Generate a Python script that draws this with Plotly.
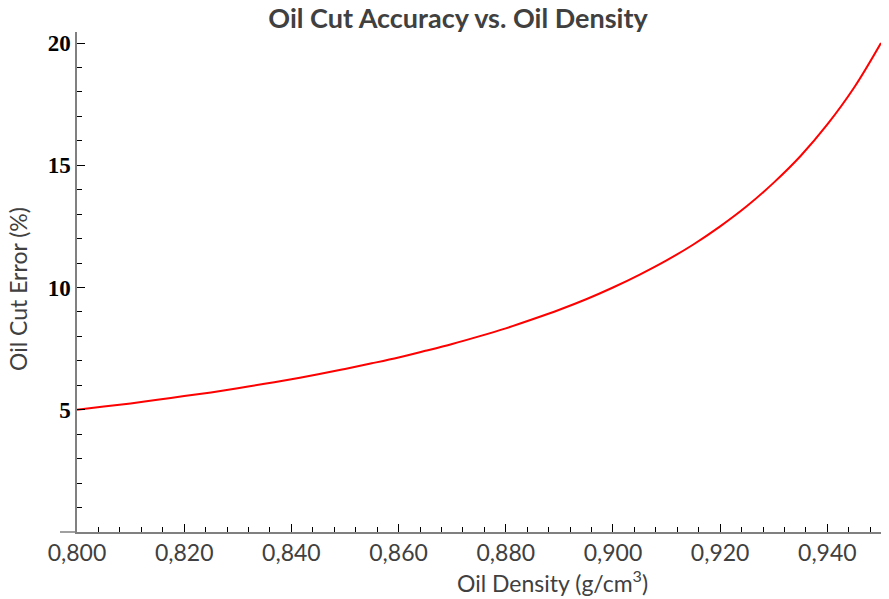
import plotly.graph_objects as go

density = [0.800, 0.805, 0.810, 0.815, 0.820, 0.825, 0.830, 0.835, 0.840, 0.845,
           0.850, 0.855, 0.860, 0.865, 0.870, 0.875, 0.880, 0.885, 0.890, 0.895,
           0.900, 0.905, 0.910, 0.915, 0.920, 0.925, 0.930, 0.935, 0.940, 0.945, 0.950]
oil_cut_error = [5.00, 5.13, 5.26, 5.41, 5.56, 5.71, 5.88, 6.06, 6.25, 6.45,
                 6.67, 6.90, 7.14, 7.41, 7.69, 8.00, 8.33, 8.70, 9.09, 9.52,
                 10.00, 10.53, 11.11, 11.76, 12.50, 13.33, 14.29, 15.38, 16.67, 18.18, 20.00]
x_ticks = [0.80, 0.82, 0.84, 0.86, 0.88, 0.90, 0.92, 0.94]
y_ticks = [5, 10, 15, 20]

title_text = "Oil Cut Accuracy vs. Oil Density"
x_title = "Oil Density (g/cm<sup>3</sup>)"
y_title = "Oil Cut Error (%)"

SANS = "Lato, 'Open Sans', sans-serif"
GRAY = "#404040"
# page body has an 8px default margin, so the figure is 8px smaller than the window
FIG_W, FIG_H = 881, 591
M_L, M_T, M_B = 69, 24, 67
PLOT_W = FIG_W - M_L
PLOT_H = FIG_H - M_T - M_B

fig = go.Figure()
fig.add_trace(go.Scatter(x=density, y=oil_cut_error, mode="lines",
                         line=dict(color="#ff0000", width=2, shape="spline"),
                         showlegend=False, hoverinfo="x+y"))

fig.update_layout(
    width=FIG_W, height=FIG_H,
    margin=dict(l=M_L, r=0, t=M_T, b=M_B, autoexpand=False),
    paper_bgcolor="white", plot_bgcolor="white",
    separators=",.",
    title=dict(text="<b>" + title_text + "</b>", x=450 / FIG_W, xanchor="center",
               y=1 - 11 / FIG_H, yanchor="middle", yref="container",
               font=dict(family=SANS, size=27, color=GRAY)),
    annotations=[
        dict(text=x_title, xref="paper", yref="paper", x=(552 - 77) / PLOT_W,
             y=-(581 - 532) / PLOT_H,
             xanchor="center", yanchor="middle", showarrow=False,
             font=dict(family=SANS, size=23, color=GRAY)),
        dict(text=y_title, xref="paper", yref="paper", x=-(77 - 18) / PLOT_W,
             y=(532 - 289) / PLOT_H, textangle=-90,
             xanchor="center", yanchor="middle", showarrow=False,
             font=dict(family=SANS, size=23, color=GRAY)),
    ],
)

fig.update_xaxes(
    range=[0.8, 0.9515], tickvals=x_ticks, tickformat=".3f", automargin=False,
    showgrid=False, zeroline=False,
    showline=True, linecolor="#808080", linewidth=1.5,
    ticks="inside", ticklen=8, tickwidth=1.2, tickcolor="#000000",
    minor=dict(dtick=0.004, tick0=0.8, ticks="inside", ticklen=5, tickwidth=1, tickcolor="#000000"),
    tickfont=dict(family=SANS, size=23, color=GRAY),
)
fig.update_yaxes(
    range=[0, 20.45], tickvals=y_ticks, automargin=False,
    showgrid=False, zeroline=False,
    showline=True, linecolor="#808080", linewidth=1.5,
    ticks="inside", ticklen=8, tickwidth=1.2, tickcolor="#000000",
    minor=dict(dtick=1, tick0=0, ticks="inside", ticklen=5, tickwidth=1, tickcolor="#000000"),
    tickfont=dict(family="'Liberation Serif', 'Times New Roman', serif", size=23,
                  color="#000000", weight="bold"),
    ticklabelstandoff=0,
)

# x-axis line extension to the left of the y axis, as in the reference
fig.add_shape(type="line", xref="paper", yref="paper", x0=-17 / PLOT_W, x1=0, y0=0, y1=0,
              line=dict(color="#808080", width=1.5))

fig.write_html("out.html")
